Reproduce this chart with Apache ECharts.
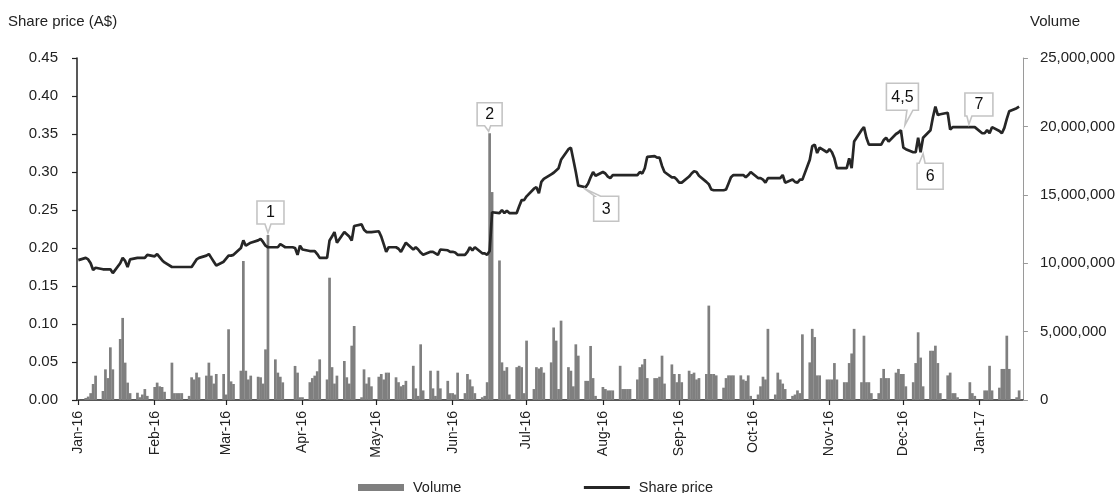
<!DOCTYPE html>
<html><head><meta charset="utf-8">
<script src="https://cdn.jsdelivr.net/npm/echarts@6/dist/echarts.min.js"></script>
<style>html,body{margin:0;padding:0;background:#fff}#c{width:1118px;height:493px}</style>
</head><body><div id="c"></div>
<script>
// ---- data ----
const months = ['2016-01','2016-02','2016-03','2016-04','2016-05','2016-06','2016-07','2016-08','2016-09','2016-10','2016-11','2016-12','2017-01'];
const firstDay = '2016-01-01';
const lastDay = '2017-01-17';
const monthNames = ['Jan','Feb','Mar','Apr','May','Jun','Jul','Aug','Sep','Oct','Nov','Dec'];

// Share price (A$), one value per weekday of each month
const priceJan16 = [0.184, 0.187,0.185,0.180,0.171,0.174, 0.172,0.172,0.172,0.172,0.167, 0.180,0.187,0.183,0.175,0.185, 0.187,0.187,0.187,0.187,0.191];
const priceFeb16 = [0.189,0.192,0.188,0.184,0.181, 0.175,0.175,0.175,0.175,0.175, 0.175,0.175,0.180,0.185,0.187, 0.190,0.192,0.187,0.182,0.177, 0.182];
const priceMar16 = [0.186,0.190,0.190,0.191, 0.200,0.210,0.203,0.205,0.207, 0.210,0.212,0.208,0.203,0.201, 0.201,0.201,0.205,0.203,0.201, 0.201,0.200,0.191,0.203];
const priceApr16 = [0.198, 0.196,0.196,0.196,0.192,0.187, 0.187,0.210,0.215,0.221,0.207, 0.221,0.218,0.215,0.210,0.229, 0.231,0.224,0.221,0.221,0.221];
const priceMay16 = [0.222,0.215,0.205,0.195,0.201, 0.201,0.199,0.195,0.201,0.207, 0.198,0.201,0.198,0.194,0.191, 0.195,0.195,0.193,0.191,0.198, 0.197,0.195];
const priceJun16 = [0.195,0.194,0.191, 0.191,0.195,0.201,0.197,0.201, 0.193,0.193,0.191,0.196,0.247, 0.246,0.250,0.246,0.249,0.246, 0.246,0.255,0.263,0.263];
const priceJul16 = [0.268, 0.278,0.280,0.272,0.287,0.291, 0.297,0.299,0.302,0.305,0.316, 0.330,0.332,0.316,0.300,0.282, 0.280,0.285,0.293,0.300,0.295];
const priceAug16 = [0.300,0.298,0.294,0.292,0.296, 0.296,0.296,0.296,0.296,0.296, 0.296,0.300,0.298,0.305,0.320, 0.321,0.319,0.319,0.308,0.300, 0.293,0.293,0.290];
const priceSep16 = [0.286,0.286, 0.294,0.298,0.301,0.300,0.295, 0.287,0.284,0.277,0.276,0.276, 0.276,0.277,0.285,0.293,0.296, 0.296,0.296,0.293,0.296,0.300];
const priceOct16 = [0.292,0.292,0.290,0.286,0.292, 0.292,0.292,0.292,0.296,0.286, 0.290,0.287,0.286,0.290,0.290, 0.316,0.334,0.336,0.325,0.332, 0.326];
const priceNov16 = [0.330,0.326,0.318,0.305, 0.305,0.305,0.318,0.305,0.340, 0.355,0.359,0.345,0.336,0.336, 0.336,0.336,0.342,0.345,0.340, 0.350,0.352,0.355];
const priceDec16 = [0.332,0.330, 0.326,0.326,0.345,0.326,0.345, 0.355,0.372,0.386,0.375,0.376, 0.378,0.356,0.359,0.359,0.359, 0.359,0.359,0.359,0.359,0.359];
const priceJan17 = [0.351,0.351,0.355,0.351,0.359, 0.354,0.351,0.358,0.370,0.380, 0.384,0.386];

// Volume (millions of shares), one value per weekday of each month
const volJan16 = [0.05, 0.15,0.25,0.5,1.17,1.78, 0.66,2.24,1.6,3.85,2.24, 4.46,6.0,2.73,1.27,0.5, 0.53,0.2,0.4,0.8,0.3];
const volFeb16 = [0.95,1.27,1.0,0.95,0.6, 2.73,0.5,0.5,0.5,0.5, 0.3,1.66,1.5,2.0,1.66, 1.78,2.73,1.78,1.2,1.9, 1.9];
const volMar16 = [0.4,5.17,1.36,1.17, 2.14,10.16,2.14,1.5,1.78, 1.7,1.66,1.2,3.7,12.06, 2.97,2.0,1.7,1.29,0, 0,2.49,2.0,0.2];
const volApr16 = [0.2, 1.3,1.6,1.78,2.1,2.97, 1.5,8.94,2.4,1.2,1.78, 2.85,1.66,1.2,3.97,5.41, 0.2,2.24,1.2,1.66,1.0];
const volMay16 = [1.7,1.9,1.5,2.0,2.0, 1.66,1.3,1.0,1.1,1.4, 2.5,0.85,0.3,4.07,0.7, 2.14,0.85,0.3,2.14,0.85, 1.4,0.5];
const volJun16 = [0.5,0.4,2.0, 0.5,1.9,1.5,1.0,0.5, 0.2,0.3,1.3,19.5,15.2, 10.2,2.75,2.14,2.4,0.4, 2.4,2.5,2.4,0.5];
const volJul16 = [4.34, 0.8,2.4,2.3,2.4,2.0, 2.75,5.3,4.34,0.8,5.8, 2.4,2.14,1.0,4.07,3.24, 1.4,1.4,3.95,1.6,0.3];
const volAug16 = [0.95,0.8,0.7,0.7,0.7, 2.5,0.8,0.8,0.8,0.8, 1.5,2.4,2.6,3.0,1.6, 1.6,1.6,1.7,3.24,1.2, 2.6,1.9,1.3];
const volSep16 = [1.9,1.3, 2.14,1.9,2.0,1.5,1.6, 1.9,6.9,1.9,1.9,1.8, 0.9,1.6,1.8,1.8,1.8, 1.8,1.5,1.4,1.8,0.3];
const volOct16 = [0.4,1.0,1.7,1.5,5.2, 0.4,2.0,1.5,1.2,0.8, 0.3,0.4,0.7,0.5,4.8, 2.75,5.2,4.6,1.8,1.8, 1.5];
const volNov16 = [1.5,1.5,2.7,1.5, 1.3,1.3,2.7,3.4,5.2, 1.3,4.7,1.3,1.3,0.5, 0.5,1.6,2.27,1.6,1.6, 2.0,2.27,1.9];
const volDec16 = [1.9,1.0, 1.3,2.7,4.95,3.1,1.0, 3.6,3.6,3.97,2.7,0.5, 1.8,2.0,0.5,0.5,0.2, 0,0,1.3,0.5,0.3];
const volJan17 = [0,0.7,0.7,2.5,0.7, 0.9,2.27,2.27,4.7,2.27, 0.2,0.7];

const priceMonths = [priceJan16,priceFeb16,priceMar16,priceApr16,priceMay16,priceJun16,priceJul16,priceAug16,priceSep16,priceOct16,priceNov16,priceDec16,priceJan17];
const volMonths = [volJan16,volFeb16,volMar16,volApr16,volMay16,volJun16,volJul16,volAug16,volSep16,volOct16,volNov16,volDec16,volJan17];

// Announcement callouts
const noteLabels = ['1','2','3','4,5','6','7'];
const noteDates = ['2016-03-18','2016-06-16','2016-07-25','2016-11-30','2016-12-08','2016-12-27'];
const noteSeries = ['volume','volume','price','price','price','price'];

const yTicksPrice = {min:0, max:0.45, interval:0.05};
const yTicksVol = {min:0, max:25000000, interval:5000000};

// ---- build ----
function pad(n){return (n<10?'0':'')+n;}
function weekdaysOf(ym){
  const y=+ym.slice(0,4), m=+ym.slice(5,7)-1;
  const out=[];
  for(let d=1; d<=31; d++){
    const dt=new Date(y,m,d);
    if(dt.getMonth()!==m) break;
    const s=y+'-'+pad(m+1)+'-'+pad(d);
    if(s>lastDay) break;
    const wd=dt.getDay();
    if(wd!==0 && wd!==6) out.push(s);
  }
  return out;
}
const dates=[], price=[], volume=[];
months.forEach((ym,k)=>{
  const ds=weekdaysOf(ym);
  if(ds.length!==priceMonths[k].length||ds.length!==volMonths[k].length) console.warn('count mismatch',ym,ds.length,priceMonths[k].length,volMonths[k].length);
  ds.forEach((d,i)=>{ dates.push(d); price.push(priceMonths[k][i]); volume.push(volMonths[k][i]*1e6); });
});

const FONT='Liberation Sans, Arial, sans-serif';
const TXT='#222';
const chart=echarts.init(document.getElementById('c'),null,{renderer:'canvas'});
const dayMs=86400000;
const titles=[
  {type:'text', left:8, top:14, style:{text:'Share price (A$)', font:'15px '+FONT, fill:TXT}},
  {type:'text', left:1030, top:14, style:{text:'Volume', font:'15px '+FONT, fill:TXT}}
];
chart.setOption({
  animation:false,
  backgroundColor:'#fff',
  textStyle:{fontFamily:FONT,color:TXT},
  grid:{left:77,right:91,top:58,bottom:93,containLabel:false},
  legend:{
    left:358, top:480, padding:0, itemWidth:46, itemHeight:7, itemGap:121,
    textStyle:{fontFamily:FONT,fontSize:14.5,color:TXT,padding:[0,0,0,4]},
    data:[{name:'Volume',icon:'rect'},{name:'Share price',itemStyle:{opacity:0},lineStyle:{width:3,color:'#262626'}}]
  },
  xAxis:{
    type:'time', min:firstDay, max:'2017-01-18',
    splitNumber:13, minInterval:28*dayMs, maxInterval:31*dayMs,
    axisLine:{lineStyle:{color:'#222',width:1.5}},
    axisTick:{show:true,length:5,lineStyle:{color:'#222',width:1.2}},
    splitLine:{show:false},
    axisLabel:{
      rotate:90, margin:11, fontSize:14, color:TXT, fontFamily:FONT,
      showMaxLabel:false, hideOverlap:false,
      formatter:function(v){const d=new Date(v); if(d.getDate()!==1) return ''; return monthNames[d.getMonth()]+'-'+String(d.getFullYear()).slice(2);}
    }
  },
  yAxis:[
    {type:'value', min:yTicksPrice.min, max:yTicksPrice.max, interval:yTicksPrice.interval, position:'left',
     axisLine:{show:true,lineStyle:{color:'#222',width:1.5}},
     axisTick:{show:true,length:5,lineStyle:{color:'#222',width:1.2}},
     splitLine:{show:false},
     axisLabel:{margin:19,fontSize:15,color:TXT,fontFamily:FONT,formatter:v=>v.toFixed(2)}},
    {type:'value', min:yTicksVol.min, max:yTicksVol.max, interval:yTicksVol.interval, position:'right',
     axisLine:{show:true,lineStyle:{color:'#9a9a9a',width:1}},
     axisTick:{show:true,length:5,lineStyle:{color:'#9a9a9a',width:1}},
     splitLine:{show:false},
     axisLabel:{margin:17,fontSize:15,color:TXT,fontFamily:FONT,formatter:v=>v.toLocaleString('en-US')}}
  ],
  series:[
    {name:'Volume', type:'bar', yAxisIndex:1, barWidth:2.7, itemStyle:{color:'#7f7f7f'},
     data:dates.map((d,i)=>[d,volume[i]]), z:2},
    {name:'Share price', type:'line', yAxisIndex:0, showSymbol:false, symbol:'none',
     lineStyle:{color:'#262626',width:2.7}, itemStyle:{color:'#262626'},
     data:dates.map((d,i)=>[d,price[i]]), z:3}
  ],
  graphic:titles
});

// callout layout: box centre offset from anchor, size, tail side, tail base (relative to anchor x), tip offset
const noteLayout = [
  {dx:2.5, dy:-22.5, w:27, h:23, side:'bottom', t1:-3, t2:3, tx:0, ty:-2},
  {dx:0, dy:-19, w:25, h:23, side:'bottom', t1:-5, t2:1, tx:-1, ty:-2},
  {dx:20.5, dy:21.5, w:25, h:25, side:'top', t1:9, t2:15, tx:-2, ty:1},
  {dx:1.5, dy:-33.5, w:32, h:27, side:'bottom', t1:6, t2:12, tx:4, ty:-5},
  {dx:9.5, dy:24, w:26, h:26, side:'top', t1:-1.5, t2:4.5, tx:2.5, ty:1.5},
  {dx:11.5, dy:-22.7, w:28, h:23, side:'bottom', t1:-0.5, t2:4.5, tx:1.5, ty:-3}
];
const extra=[];
noteLabels.forEach((lab,i)=>{
  const idx=dates.indexOf(noteDates[i]);
  const isVol=noteSeries[i]==='volume';
  const val=isVol?volume[idx]:price[idx];
  const p=chart.convertToPixel({xAxisIndex:0,yAxisIndex:isVol?1:0},[noteDates[i],val]);
  const L=noteLayout[i];
  const ax=p[0], ay=p[1];
  const cx=ax+L.dx, cy=ay+L.dy;
  const l=cx-L.w/2, r=cx+L.w/2, t=cy-L.h/2, b=cy+L.h/2;
  const tip=[ax+L.tx, ay+L.ty];
  let pts;
  if(L.side==='bottom') pts=[[l,t],[r,t],[r,b],[ax+L.t2,b],tip,[ax+L.t1,b],[l,b]];
  else pts=[[l,t],[ax+L.t1,t],tip,[ax+L.t2,t],[r,t],[r,b],[l,b]];
  extra.push({type:'polygon', z:100, shape:{points:pts}, style:{fill:'#fff',stroke:'#c4c4c4',lineWidth:1.6,lineJoin:'miter'}});
  extra.push({type:'text', z:101, x:cx, y:cy+0.5, style:{text:lab, font:'16px '+FONT, fill:'#111', align:'center', verticalAlign:'middle'}});
});
chart.setOption({graphic:titles.concat(extra)}, {replaceMerge:['graphic']});
</script></body></html>
